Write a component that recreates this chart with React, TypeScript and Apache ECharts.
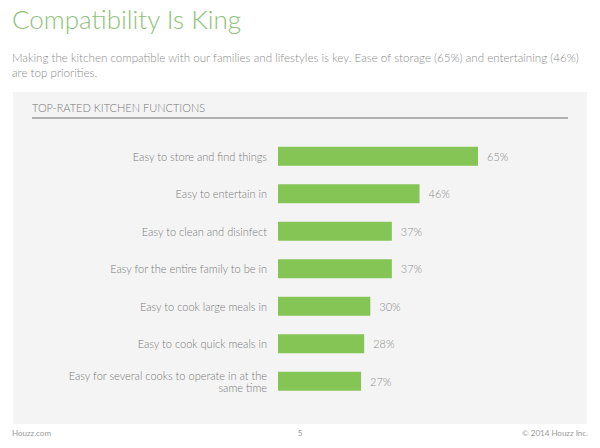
import React, { useEffect, useRef } from "react";
import * as echarts from "echarts";

const categories = [
  "Easy to store and find things",
  "Easy to entertain in",
  "Easy to clean and disinfect",
  "Easy for the entire family to be in",
  "Easy to cook large meals in",
  "Easy to cook quick meals in",
  "Easy for several cooks to operate in at the\nsame time",
];
const values = [65, 46, 37, 37, 30, 28, 27];

const titleText = "Compatibility Is King";
const subtitleText =
  "Making the kitchen compatible with our families and lifestyles is key. Ease of storage (65%) and entertaining (46%)\nare top priorities.";
const panelHeader = "TOP-RATED KITCHEN FUNCTIONS";
const footerLeft = "Houzz.com";
const footerMid = "5";
const footerRight = "© 2014 Houzz Inc.";

export default function App() {
  const ref = useRef<HTMLDivElement>(null);
  useEffect(() => {
    if (!ref.current) return;
    const chart = echarts.init(ref.current, null, { renderer: "svg" });
    const font = "Lato, 'Open Sans', sans-serif";
    chart.setOption({
      animation: false,
      backgroundColor: "#ffffff",
      textStyle: { fontFamily: font },
      graphic: [
        {
          type: "rect",
          z: -10,
          shape: { x: 13, y: 92, width: 574, height: 332 },
          style: { fill: "#f4f4f4" },
        },
        {
          type: "text",
          x: 12,
          y: 6,
          style: {
            text: titleText,
            fill: "#8fc27a",
            font: `300 26px ${font}`,
          },
        },
        {
          type: "text",
          x: 12,
          y: 50,
          style: {
            text: subtitleText,
            fill: "#8a8a8a",
            font: `300 11.6px ${font}`,
            lineHeight: 15,
          },
        },
        {
          type: "text",
          x: 32,
          y: 102,
          style: {
            text: panelHeader,
            fill: "#777777",
            font: `300 11px ${font}`,
          },
        },
        {
          type: "line",
          shape: { x1: 32, y1: 118, x2: 568, y2: 118 },
          style: { stroke: "#9a9a9a", lineWidth: 1.5 },
        },
        {
          type: "text",
          x: 12,
          y: 429,
          style: { text: footerLeft, fill: "#999999", font: `8px ${font}` },
        },
        {
          type: "text",
          x: 300,
          y: 429,
          style: { text: footerMid, fill: "#999999", font: `8px ${font}`, align: "center" },
        },
        {
          type: "text",
          x: 588,
          y: 429,
          style: { text: footerRight, fill: "#999999", font: `8px ${font}`, align: "right" },
        },
      ],
      grid: { left: 278, right: 14.3, top: 137.5, bottom: 48 },
      xAxis: {
        type: "value",
        min: 0,
        max: 100,
        show: false,
      },
      yAxis: {
        type: "category",
        inverse: true,
        data: categories,
        axisLine: { show: false },
        axisTick: { show: false },
        splitLine: { show: false },
        axisLabel: {
          margin: 11,
          color: "#7a7a7a",
          fontSize: 11,
          fontWeight: 300,
          fontFamily: font,
          lineHeight: 12,
          align: "right",
        },
      },
      series: [
        {
          type: "bar",
          data: values,
          barWidth: 19,
          itemStyle: { color: "#85c556" },
          label: {
            show: true,
            position: "right",
            distance: 9,
            formatter: "{c}%",
            color: "#8a8a8a",
            fontSize: 11,
            fontWeight: 300,
            fontFamily: font,
          },
        },
      ],
    });
    return () => chart.dispose();
  }, []);
  return <div ref={ref} style={{ width: 600, height: 448, position: "absolute", left: 0, top: 0 }} />;
}
